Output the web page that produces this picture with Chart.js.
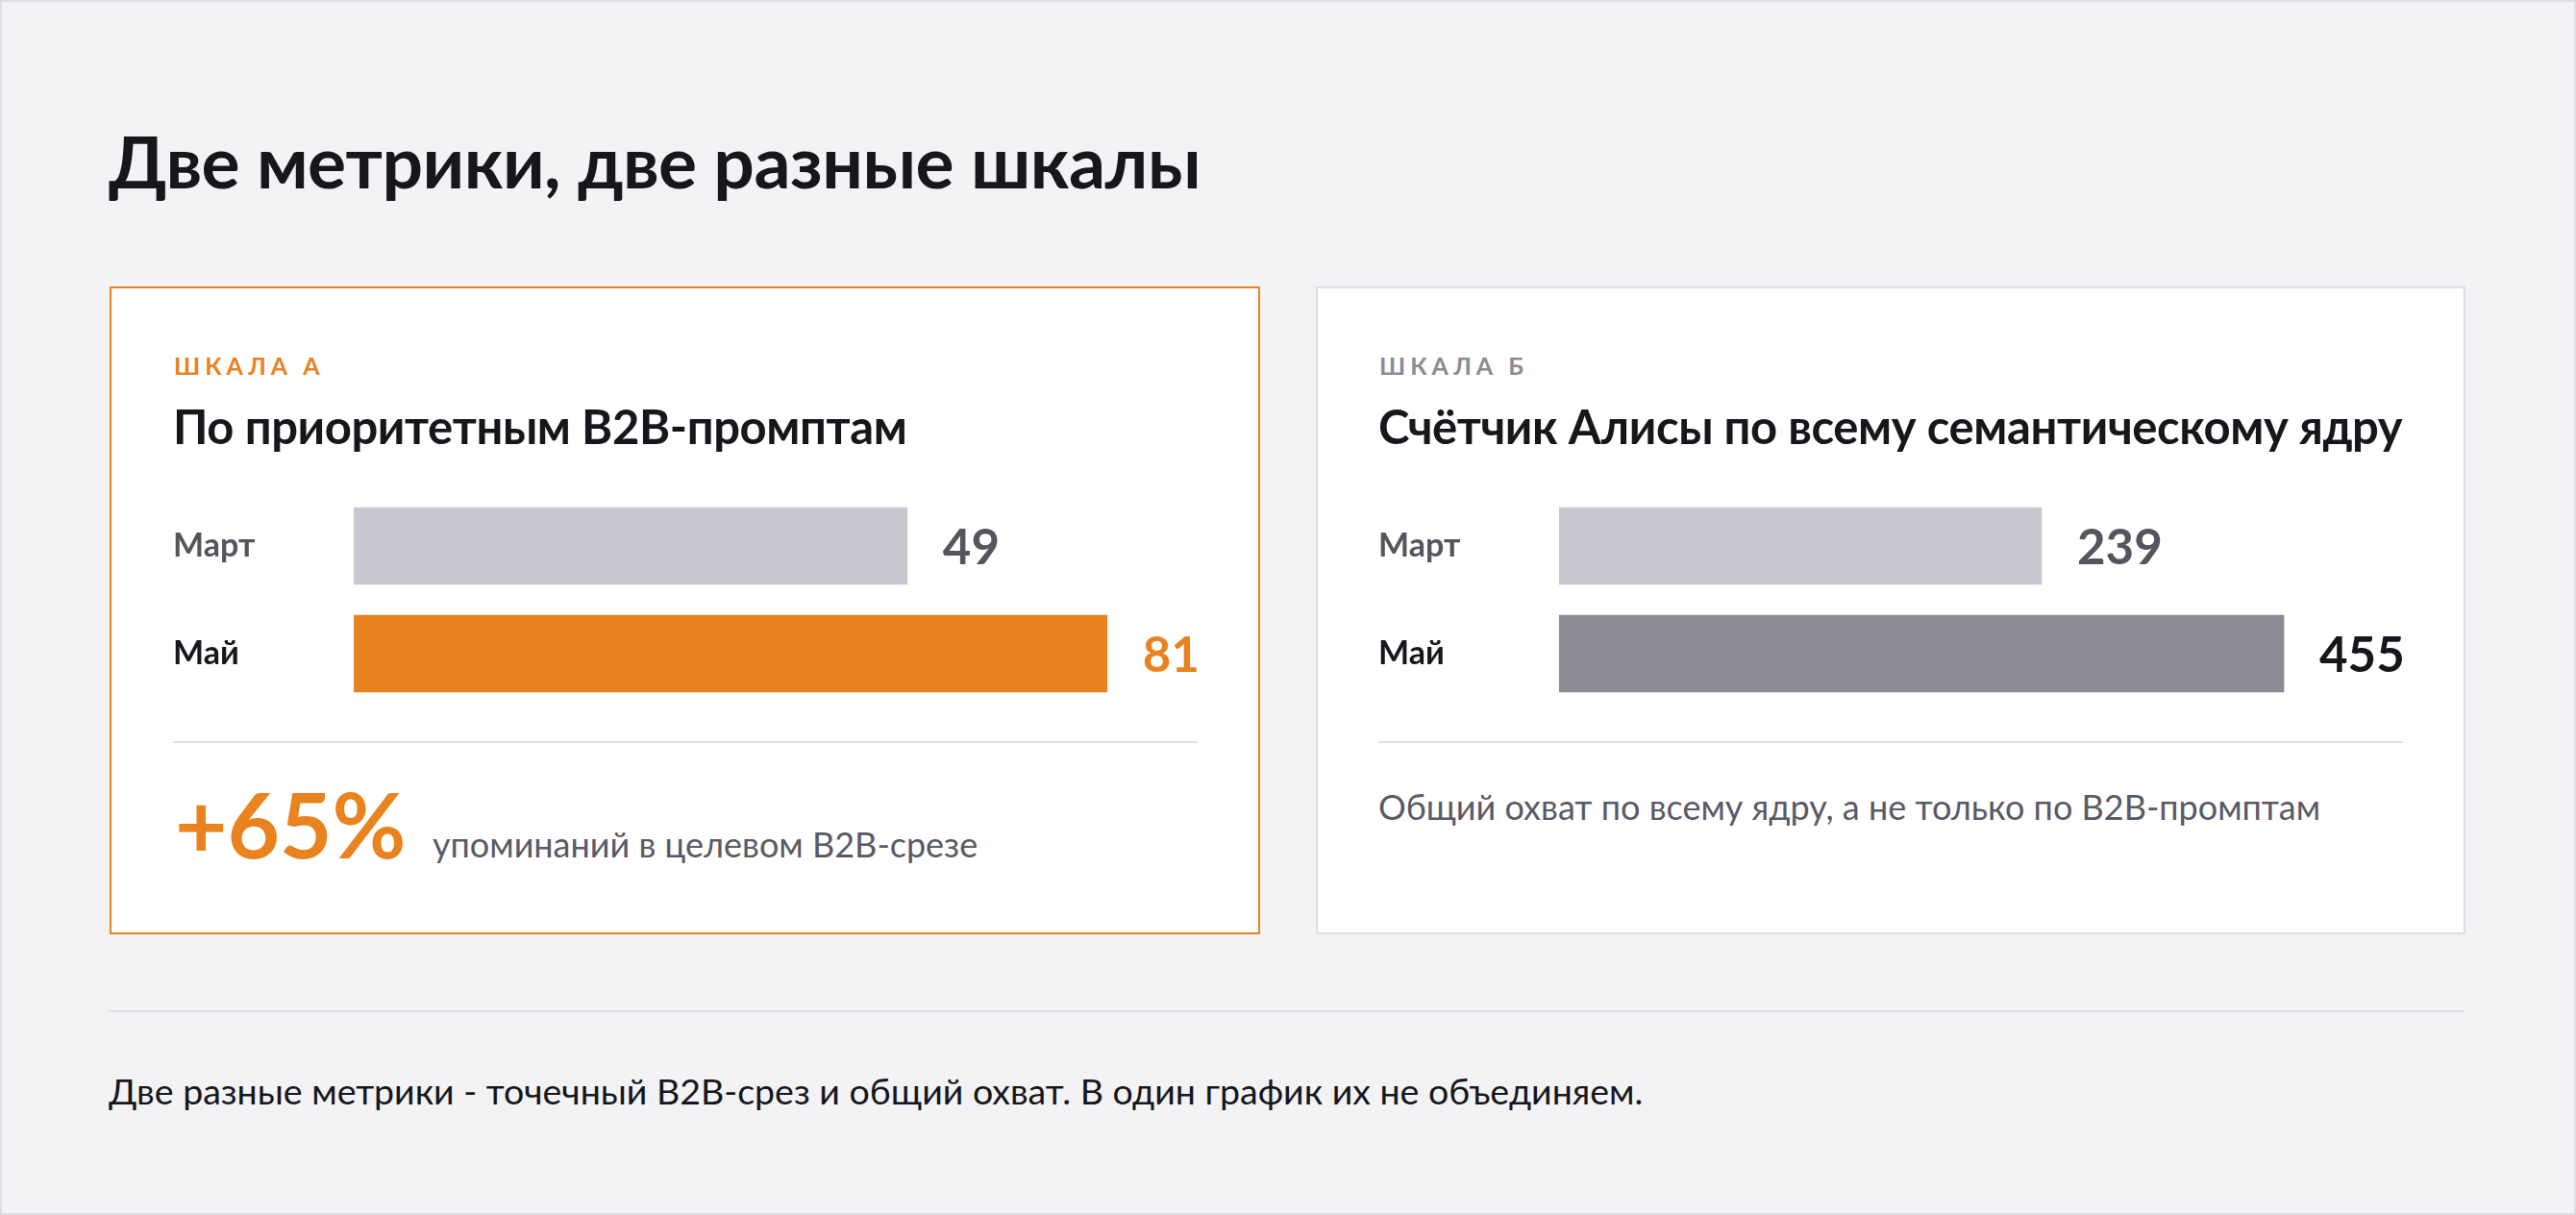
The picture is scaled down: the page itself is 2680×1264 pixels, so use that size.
<!DOCTYPE html>
<html lang="ru">
<head>
<meta charset="utf-8">
<title>Две метрики, две разные шкалы</title>
<script src="https://cdn.jsdelivr.net/npm/chart.js@4.4.1/dist/chart.umd.min.js"></script>
<style>
  html, body { margin: 0; padding: 0; }
  body { width: 2680px; height: 1264px; background: #F3F3F5; font-family: Lato, "Noto Sans", sans-serif; position: relative; overflow: hidden; }
  .frame { position: absolute; left: 0; top: 0; width: 2680px; height: 1264px; box-sizing: border-box; border: 2px solid #DEDEE3; }
  .abs { position: absolute; line-height: 1; white-space: nowrap; }
  .card { position: absolute; top: 298px; height: 674px; box-sizing: border-box; background: #fff; }
  .rule { position: absolute; height: 2px; background: #DEDEE3; }
  canvas { position: absolute; }
</style>
</head>
<body>
<div class="frame"></div>

<div class="abs" id="title" style="left:113px; top:130px; font-size:75px; font-weight:700; letter-spacing:-0.5px; color:#16161D;"></div>

<div class="card" style="left:114px; width:1197px; border:2px solid #E8831F;"></div>
<div class="card" style="left:1369px; width:1196px; border:2px solid #DEDEE3;"></div>

<div class="abs" id="kickerA" style="left:181px; top:368px; font-size:25px; font-weight:700; letter-spacing:5px; color:#E8831F;"></div>
<div class="abs" id="titleA" style="left:180px; top:419px; font-size:49px; font-weight:700; letter-spacing:-0.4px; color:#16161D;"></div>
<canvas id="chartA" width="1106" height="224" style="left:180px; top:512px;"></canvas>
<div class="rule" style="left:180px; top:771px; width:1066px;"></div>
<div class="abs" id="deltaA" style="left:182px; top:810px; font-size:94px; font-weight:700; color:#E8831F;"></div>
<div class="abs" id="noteA" style="left:450px; top:860px; font-size:36px; color:#5A5A66;"></div>

<div class="abs" id="kickerB" style="left:1435px; top:368px; font-size:25px; font-weight:700; letter-spacing:5px; color:#8B8B95;"></div>
<div class="abs" id="titleB" style="left:1434px; top:419px; font-size:49px; font-weight:700; letter-spacing:-0.4px; color:#16161D;"></div>
<canvas id="chartB" width="1106" height="224" style="left:1434px; top:512px;"></canvas>
<div class="rule" style="left:1434px; top:771px; width:1066px;"></div>
<div class="abs" id="noteB" style="left:1434px; top:821px; font-size:36px; color:#5A5A66;"></div>

<div class="rule" style="left:113px; top:1051px; width:2451px;"></div>
<div class="abs" id="footer" style="left:113px; top:1116px; font-size:37.5px; color:#16161D;"></div>

<script>
// Тексты
const chartTitle = 'Две метрики, две разные шкалы';
const kickers = ['ШКАЛА А', 'ШКАЛА Б'];
const panelTitles = ['По приоритетным B2B-промптам', 'Счётчик Алисы по всему семантическому ядру'];
const deltaText = '+65%';
const panelNotes = ['упоминаний в целевом B2B-срезе', 'Общий охват по всему ядру, а не только по B2B-промптам'];
const footerText = 'Две разные метрики - точечный B2B-срез и общий охват. В один график их не объединяем.';

// Данные
const months = ['Март', 'Май'];
const scaleAValues = [49, 81];
const scaleBValues = [239, 455];

document.getElementById('title').textContent = chartTitle;
document.getElementById('kickerA').textContent = kickers[0];
document.getElementById('kickerB').textContent = kickers[1];
document.getElementById('titleA').textContent = panelTitles[0];
document.getElementById('titleB').textContent = panelTitles[1];
document.getElementById('deltaA').textContent = deltaText;
document.getElementById('noteA').textContent = panelNotes[0];
document.getElementById('noteB').textContent = panelNotes[1];
document.getElementById('footer').textContent = footerText;

const FONT = 'Lato, "Noto Sans", sans-serif';

// Подписи значений справа от полос
const valueLabels = {
    id: 'valueLabels',
    afterDatasetsDraw(chart, args, opts) {
        const ctx = chart.ctx;
        const meta = chart.getDatasetMeta(0);
        const values = chart.data.datasets[0].data;
        ctx.save();
        ctx.font = 'bold 51px ' + FONT;
        ctx.textAlign = 'left';
        ctx.textBaseline = 'alphabetic';
        meta.data.forEach((bar, i) => {
            ctx.fillStyle = opts.colors[i];
            ctx.fillText(String(values[i]), bar.x + 37, bar.y + 19);
        });
        ctx.restore();
    }
};

function makeChart(id, values, barColors, labelColors, valueColors, min, max) {
    return new Chart(document.getElementById(id), {
        type: 'bar',
        data: {
            labels: months,
            datasets: [{
                data: values,
                base: min,
                backgroundColor: barColors,
                barThickness: 80,
                borderWidth: 0
            }]
        },
        options: {
            indexAxis: 'y',
            responsive: false,
            animation: false,
            layout: { padding: { right: 40 } },
            plugins: {
                legend: { display: false },
                tooltip: { enabled: false },
                valueLabels: { colors: valueColors }
            },
            scales: {
                x: { display: false, min: min, max: max },
                y: {
                    grid: { display: false, drawTicks: false },
                    border: { display: false },
                    ticks: {
                        crossAlign: 'far',
                        padding: 0,
                        color: (c) => labelColors[c.index],
                        font: { family: FONT, size: 34, weight: 'bold' }
                    },
                    afterFit(scale) {
                        scale.width = 188;
                        scale.paddingTop = 0;
                        scale.paddingBottom = 0;
                    }
                }
            }
        },
        plugins: [valueLabels]
    });
}

// полосы в макете начинаются не с нуля, поэтому шкалы смещены
makeChart('chartA', scaleAValues,
    ['#C8C8D0', '#E8831F'], ['#55555F', '#16161D'], ['#55555F', '#E8831F'],
    -39.6, 95.5);
makeChart('chartB', scaleBValues,
    ['#C8C8D0', '#8B8B95'], ['#55555F', '#16161D'], ['#55555F', '#16161D'],
    -191.3, 561.3);
</script>
</body>
</html>
